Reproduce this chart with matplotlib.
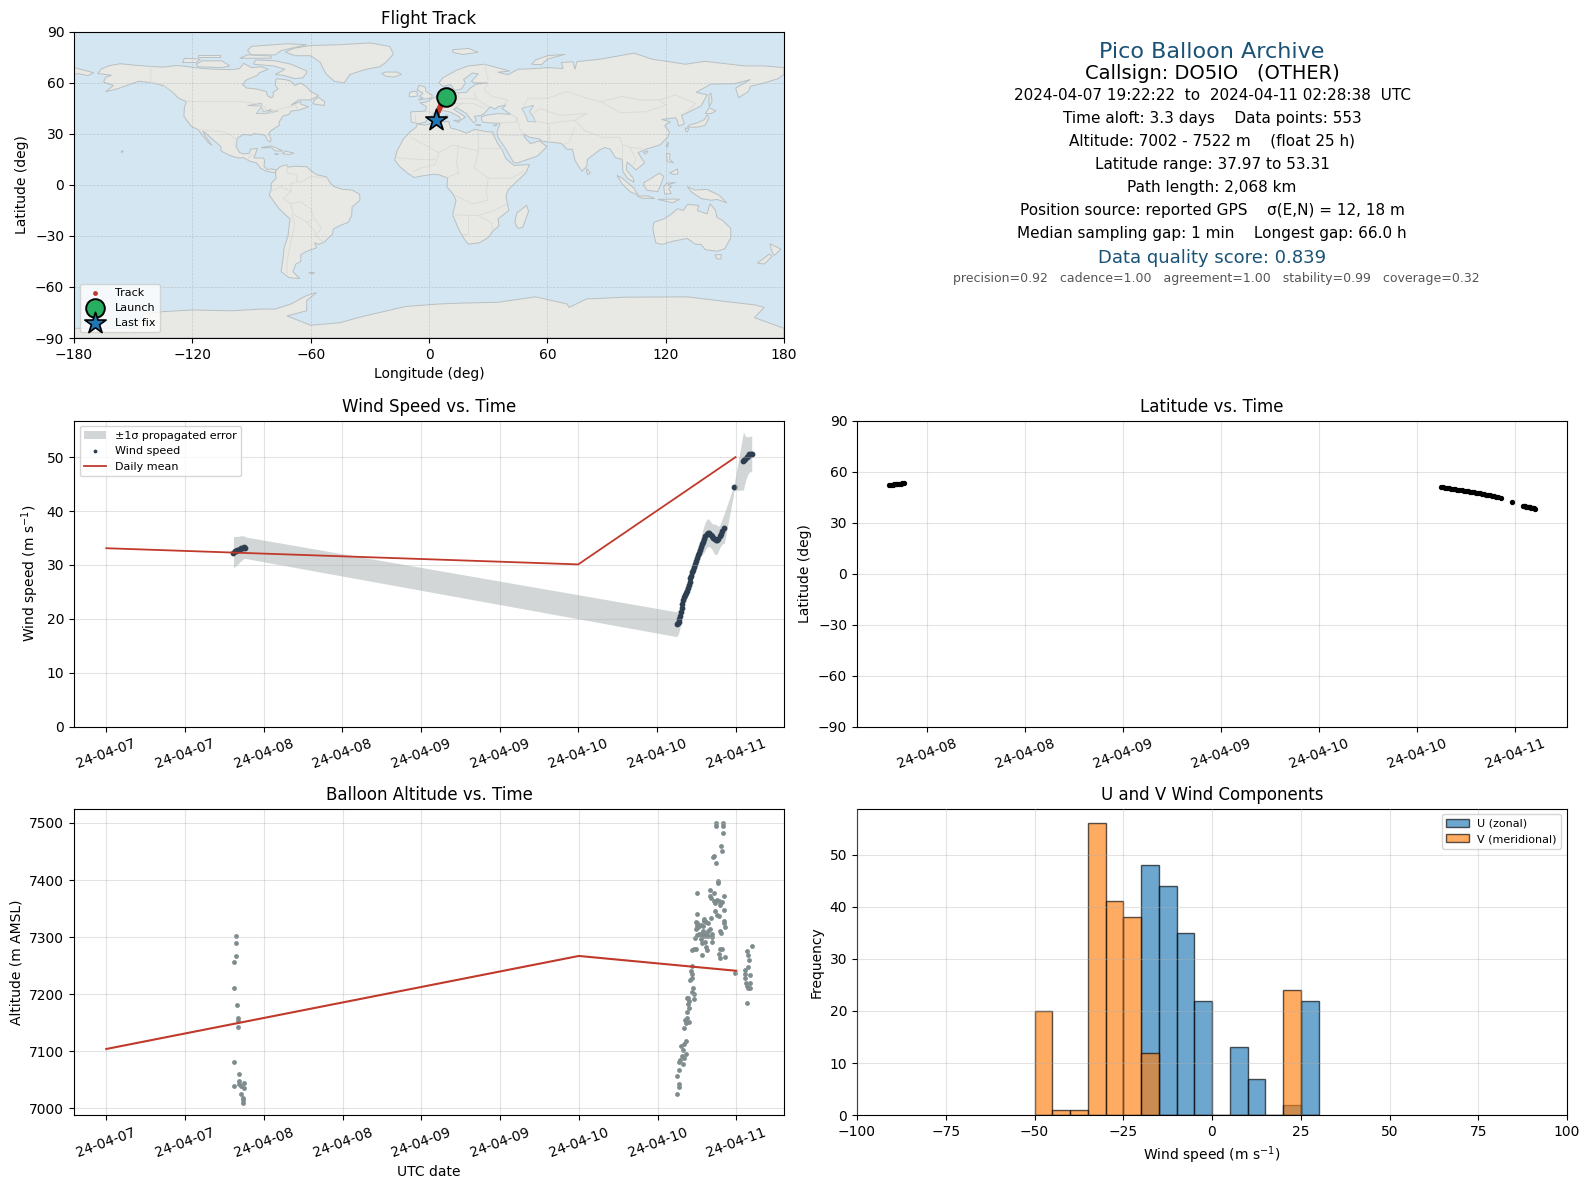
from datetime import datetime, timedelta

import matplotlib
matplotlib.use("Agg")
import matplotlib.dates as mdates
import matplotlib.pyplot as plt
import numpy as np

# Flight start of day, all times below are hours after this
BASE = datetime(2024, 4, 7)

NAVY = "#1a5276"
RED = "#c0392b"
DARK = "#2c3e50"
GREY = "#7f8c8d"
OCEAN = "#d4e6f1"
LAND = "#e8e8e4"
COAST = "#b9c0c2"

# Land outlines as (lon, lat)
north_america = [(-168,65.6),(-166,68.3),(-162,70.2),(-156.5,71.3),(-150,70.5),(-141,69.7),(-135,69.3),(-128,70.2),(-124,69.8),(-115,68.5),(-108,68),(-100,67.8),(-96,68.5),(-94,71.5),(-90,69),(-85,69.5),(-81.5,68),(-86,66),(-87,64.5),(-93,61.5),(-94.5,59),(-92.5,57),(-88,56.5),(-82.5,55),(-82,52.5),(-80,51.3),(-79,52),(-79,54.5),(-76.5,56.5),(-78,58.7),(-77.5,62.4),(-73,62),(-70,61),(-68,58.5),(-65,60),(-62,57.5),(-60,55),(-56,52.5),(-60,50),(-66,50),(-70,47),(-65,49),(-65,47.5),(-61,46),(-66,44),(-70,43.5),(-71,41.5),(-74,40.5),(-76,37),(-76,35),(-80,32),(-81.3,30),(-80,26.8),(-80.5,25.2),(-82,26.5),(-83,29),(-85,29.7),(-89,30.2),(-90,29.2),(-94,29.7),(-97.3,27.5),(-97.8,22.5),(-96,19),(-94,18.2),(-91,18.7),(-90.5,21),(-87,21.5),(-88,18),(-88.8,15.9),(-84,15.8),(-83.3,14.5),(-83.7,11),(-82,9),(-79.7,9.5),(-77.4,8.7),(-77.9,7.2),(-80,7.5),(-81.5,7.8),(-83,8.3),(-85.5,10),(-87.5,13),(-91,14),(-94,16),(-97,15.9),(-101,17.3),(-105.5,20),(-105.5,22.5),(-109,26),(-112.8,30),(-114.7,31.7),(-113,28),(-110,23.2),(-112,25),(-115,29.5),(-117.1,32.5),(-120.5,34.5),(-122.5,37.5),(-124.3,40.4),(-124,46),(-123,49),(-127,51),(-130,54.5),(-134,58),(-140,60),(-147,61),(-152,59),(-158,56.5),(-164,54.8),(-160,58.5),(-165,60.5),(-164,63.3),(-161,64.5)]
greenland = [(-73,78.2),(-68,80.5),(-60,82),(-45,82.5),(-30,83.5),(-20,81.5),(-18,77),(-22,72),(-25,69.5),(-32,68),(-40,65),(-43,60),(-48,61),(-52,65),(-54,69),(-55,72),(-60,76),(-68,76)]
south_america = [(-77.9,7.2),(-77.4,8.7),(-75.5,10.7),(-72,12),(-71.5,10.5),(-68,11),(-62,10.7),(-60,8.5),(-57,6),(-52,4.8),(-50,1),(-48,-1),(-44,-2.5),(-39,-3),(-35.2,-5.5),(-35,-9),(-39,-13),(-39.2,-18),(-41,-22),(-45,-23.8),(-48.5,-26),(-49,-29),(-53,-33.5),(-56,-35),(-58,-34),(-57,-37),(-62,-39),(-65,-41),(-65,-45),(-67.5,-46.5),(-69,-51),(-65.5,-55),(-71,-54.5),(-75,-51),(-74,-43),(-73.5,-37),(-71.5,-30),(-70.5,-20),(-76,-14),(-81,-6),(-80,-2.5),(-80,0.8),(-77.5,4)]
africa = [(-5.9,35.8),(-2,35.2),(3,36.8),(10,37.3),(11,33.5),(15,32.3),(19,30.4),(23,32.7),(30,31.2),(32.5,31.2),(32.5,30),(35,24),(37,21),(39,15.5),(43,11.5),(51,12),(49,7),(44,1.5),(40,-3),(39,-7),(40.5,-15),(35,-20),(35.5,-24),(32.5,-27),(30,-31),(25.5,-34),(20,-34.8),(18,-32),(15,-26),(12,-17.5),(13.7,-9),(12,-5),(9,-1),(9.5,4),(5,6),(2,6.3),(-4,5.2),(-7.5,4.4),(-11,7),(-15,11),(-17.4,14.7),(-16.2,20),(-13,27),(-9.8,31),(-6.5,34)]
eurasia = [(-9,37),(-9.3,43),(-2,43.4),(-1.2,46),(-4.7,48.4),(-1.5,48.7),(2,51),(4,52),(8,53.7),(8.5,57),(10.5,57.5),(10,54.5),(14,54),(19,54.5),(21,57),(24,59.3),(30,60),(23,60),(21.5,61),(25,65.3),(22,65.8),(17.5,62),(18.5,60),(16.5,56.5),(13,55.5),(11,59),(7,58),(5,60),(7,63),(14,67.5),(20,70),(28,71),(41,67),(35,66.3),(40,64.8),(45,68),(54,68.5),(60,69),(68,68.5),(67,72),(73,72.5),(74,68),(75,72.5),(87,74),(104,77.5),(113,74),(130,71),(140,72.7),(160,70),(170,70),(180,69),(180,65),(177,62.5),(170,60),(163,58),(162,55),(157,51.3),(155.5,57),(163,62),(155,59.5),(143,59.3),(135.5,54.5),(141,53),(138,46.5),(132,43),(128,41),(129.5,36),(126.5,34.5),(126,37.5),(125,39.5),(121,39),(118,38.5),(122.5,37),(119.5,35),(122,31),(121,28),(117,23.5),(110,21),(106,19),(109.3,13),(105,8.8),(100.5,13.5),(100,9),(103.5,4),(104,1.5),(100.5,4),(98.3,8),(98,15),(94.5,16),(92,21),(89,22),(86.5,20.5),(80.3,15),(80,11),(77.5,8),(74,14.5),(72.7,21),(70,21),(67,24.5),(61,25.2),(57,25.8),(56.3,27),(51,28),(48,30),(48.5,28),(51.5,24.3),(56,26),(59.8,22.5),(55,17),(45,13),(43,13),(39,21),(35,28),(34.5,31.3),(36,36.3),(30.5,36.5),(27,37),(26.5,40),(29,41),(35,42),(41.5,41.5),(37,45),(39,47),(35,46),(33.5,44.5),(31,46),(28,42),(26,40.8),(23,40.3),(24,38),(22.7,36.5),(19.5,41),(19,42),(14,45.5),(12.5,44.5),(18.5,40),(16,38),(15.5,40),(10.5,43),(7,43.7),(3,42.5),(0,39.5),(-2,36.8),(-5.5,36)]
chukotka = [(-180,69),(-175,67.5),(-170,66),(-173,64.3),(-178,65.5),(-180,65)]
australia = [(114,-22),(113.5,-26),(115,-34),(118,-35),(124,-33),(131,-31.5),(135,-34.8),(138,-35),(140,-38),(146,-39),(150,-37.5),(153,-31),(153,-25.5),(149,-21),(146,-19),(145.3,-15),(142.5,-11),(141,-17),(136,-15),(136.8,-12),(131,-11.5),(129,-15),(126,-14),(122.5,-17.5),(119,-20)]
antarctica = [(-180,-90),(-180,-84.3),(-150,-84.3),(-145,-76),(-135,-74.5),(-120,-73.5),(-100,-74),(-85,-73),(-78,-73),(-70,-70),(-62,-65),(-57,-63.3),(-62,-68),(-62,-74),(-72,-77),(-60,-82.5),(-45,-81),(-36,-78),(-25,-75),(-12,-71.5),(5,-70),(16,-69.5),(35,-69),(54,-65.8),(70,-70),(71,-72),(80,-67),(100,-66),(131,-65.8),(150,-68.5),(165,-70.5),(170,-72),(165,-78),(180,-84.3),(180,-90)]
islands = [
    [(-62,66),(-64,63),(-68,62.5),(-74,64.5),(-78,65),(-73,68),(-79,70),(-89,71),(-88,73.5),(-78,73),(-70,71),(-62,67)],
    [(-117,69.5),(-105,69),(-101,70),(-105,73),(-115,73),(-118,71)],
    [(-90,76.5),(-78,76.5),(-75,79),(-62,82.5),(-72,83),(-90,81.5),(-92,79)],
    [(-125,72),(-118,72),(-116,74),(-124,74.5)],
    [(-96,74.5),(-80,74.5),(-80,75.8),(-92,76.5)],
    [(-117,75),(-106,75),(-106,76.5),(-117,76.5)],
    [(-59,47.7),(-53,46.7),(-53,49),(-56,51.5),(-58,50)],
    [(-85,22),(-80,23),(-75,20.5),(-74.2,20),(-78,20),(-80,22),(-84,21.8)],
    [(-74.4,18.5),(-72.8,19.9),(-68.5,18.7),(-71,17.8)],
    [(-78.3,18.3),(-76.3,18.2),(-77,17.8)],
    [(-156,19),(-155,19.7),(-155.9,20.2)],
    [(-61,-51.5),(-58,-51.5),(-59,-52.3)],
    [(-5.5,50),(1.3,51.2),(1.7,52.7),(-1.5,55),(-2,57.6),(-5,58.6),(-6,56),(-3,54),(-5,52),(-3,51.3)],
    [(-10,51.8),(-6,52.2),(-6,55),(-8.5,55),(-10,54)],
    [(-24,65.5),(-22,64),(-18,63.4),(-14,65),(-16,66.4),(-22,66.4)],
    [(12,78),(17,76.7),(25,78),(20,80.3),(12,79.5)],
    [(52,71),(57,70.7),(60,74),(69,76.8),(60,76),(54,73.5)],
    [(12.5,38),(15.5,38),(15,36.7)],
    [(8.3,41),(9.7,41),(9.5,39),(8.5,39)],
    [(23.5,35.5),(26.3,35.2),(24.5,35)],
    [(32.5,35),(34.5,35.5),(33.5,34.7)],
    [(80,9.5),(81.8,7),(80.5,6),(79.8,8)],
    [(131,34),(136,34),(140,35),(142,39.5),(141,41.3),(139.8,38.5),(136,36.5),(132,35.3)],
    [(130,33.5),(131.8,33),(131,31.2),(130,32)],
    [(140,42),(143,42),(145.5,43.5),(142,45.4),(141,43.5)],
    [(142,46),(143.5,49),(143,54),(142,53),(142,49)],
    [(120.2,23),(121.5,25.2),(121,22)],
    [(108.7,19.2),(110.5,20),(111,19.5),(109.5,18.2)],
    [(120.5,18.5),(122.2,18.3),(122,15),(124,13),(120.8,13.8)],
    [(122,7),(126,9.5),(126.2,6.5),(124,6.2)],
    [(95.3,5.6),(98,4),(104,-2),(106,-6),(102,-4),(98,0.5)],
    [(105.5,-6.5),(111,-6.5),(114.5,-8),(108,-7.8)],
    [(109,1.5),(111.5,3),(116.8,7),(119,5),(117.8,1),(116,-4),(110.5,-3),(109,-0.5)],
    [(119.5,-5.5),(119,-1),(120.5,1),(125,1.5),(121,0),(123,-1),(121.5,-2),(122.8,-5)],
    [(131,-1),(135,-3),(141,-2.6),(147,-6),(151,-10.5),(146,-8.5),(143,-9),(138,-8),(133,-4)],
    [(116,-8.5),(125,-8.3),(127,-8.5),(123.5,-10.5)],
    [(49.5,-12),(50.5,-15.5),(47.5,-25),(45,-25.5),(43.5,-22),(44.5,-16.5)],
    [(145,-41),(148.3,-41),(148,-43.5),(146,-43.5)],
    [(172.8,-34.5),(178.5,-37.8),(175,-41.5),(174,-39.5)],
    [(172.5,-40.6),(174,-42),(170,-46.5),(166.5,-46),(171,-42)],
]
caspian = [(47,45),(53,46.8),(51,43),(53,40),(54,37),(50,37.5),(49,41)]
great_lakes = [[(-92,46.7),(-85,48),(-84.7,46.6),(-88,46.5)],
               [(-87.5,42),(-85,46),(-84,43),(-80,44.5),(-82.5,42)],
               [(-83,41.7),(-79,42.8),(-76.5,43.5),(-79.5,43.5)]]
borders = [
    [(-123,49),(-95,49),(-89,48),(-83,46),(-82.5,42),(-79,43),(-75,45),(-70,46),(-67.5,47),(-67,45)],
    [(-141,69.7),(-141,60.3),(-135,59),(-130,55)],
    [(-117,32.5),(-108,31.5),(-106,31.7),(-101,29.7),(-97.3,26)],
    [(-92,14.5),(-91,17),(-89,18)],
    [(-51.5,4),(-60,5),(-64,2),(-70,1),(-70,-4),(-74,-8),(-70,-11),(-65,-10),(-60,-14),(-58,-20),(-54.5,-25.5),(-57.5,-30),(-53.5,-33.5)],
    [(-69.5,-18),(-68,-23),(-70,-33),(-72,-45),(-72,-52)],
    [(-72,12),(-72,7),(-67,6),(-67,1.5)],
    [(-70,-11),(-69,-17),(-62,-22),(-58,-20)],
    [(-62,-22),(-58,-27),(-57.5,-30)],
    [(-80,-3.5),(-75,-1),(-70,-4)],
    [(-8.7,27.7),(5,19),(12,23.5),(25,20),(25,32)],
    [(25,22),(36.5,22)],
    [(5,19),(3,12),(-4,10),(-8,8)],
    [(-16,16),(-5,15),(3,15)],
    [(15,23),(14,13),(15,7),(9,4.5)],
    [(25,20),(23,10),(30,4),(34,4),(42,4),(48,8)],
    [(30,4),(29,-4),(30,-9),(22,-11),(13,-6)],
    [(12,-17.5),(25,-18),(33,-15),(40.5,-10.5)],
    [(20,-18),(20,-29),(17,-29)],
    [(25,-18),(32,-22.5),(32,-26.5)],
    [(-1.8,43.4),(3,42.5)],
    [(-7,37),(-7,42)],
    [(7.5,44),(7,47.5),(8,49),(6,50),(4,51.5)],
    [(7,47.5),(17,48),(13,45.6)],
    [(6.8,53.4),(7,50.5)],
    [(14.5,54),(15,51),(24,50.5),(23,54.4)],
    [(24,50.5),(30,46)],
    [(17,48),(22,48),(28,45)],
    [(30,60),(28,56),(32,52),(40,50),(38,47)],
    [(28,71),(30,62)],
    [(48,46),(50,51),(60,51),(70,55),(80,51),(87,49),(98,52),(107,50),(117,50),(125,53),(135,48),(131,43)],
    [(87,49),(97,42.5),(110,43),(120,47),(117,50)],
    [(80,42),(74,38),(79,32),(88,28),(97,28),(98,24),(102,22),(108,21.5)],
    [(74,34),(71,25),(68,23.7)],
    [(61,25),(61,36),(54,37.5)],
    [(44.5,39.5),(46,33),(48,30)],
    [(36,29.5),(44,29),(47.5,29)],
    [(36,36.5),(44,37),(44.5,39.5),(41.5,41.5)],
    [(53,42),(56,45),(66,41),(80,42)],
    [(98,24),(98,15)],
    [(102,22),(105,15),(103,11)],
    [(61,36),(66,37),(74,38)],
]

# Track and end markers
track_lon = [8.7, 8.0, 7.3, 6.6, 6.0, 5.5, 5.0, 4.6, 4.2, 3.9, 3.6]
track_lat = [52.2, 50.6, 49.4, 48.3, 47.2, 46.0, 44.7, 43.3, 41.8, 39.9, 38.0]
launch_pos = (8.7, 52.0)
last_fix_pos = (3.6, 38.0)

# Wind speed, hours after BASE / m s-1 / 1 sigma error
wind_hours = [19.4,19.6,19.8,20.0,20.2,20.4,20.6,20.8,21.0,21.2,
              87.0,87.15,87.3,87.45,87.6,87.7,87.8,87.9,88.0,88.1,88.25,88.4,88.55,88.7,88.85,89.0,89.1,89.25,89.4,89.55,
              89.7,89.85,90.0,90.1,90.25,90.4,90.55,90.7,90.85,91.0,91.2,91.4,91.6,91.8,92.0,92.2,92.4,92.6,92.8,93.0,
              93.2,93.4,93.6,93.8,94.0,94.3,95.8,97.2,97.35,97.5,97.7,97.9,98.1,98.3,98.47]
wind_speed = [32.3,32.5,32.6,32.7,32.8,33.0,33.1,33.2,33.3,33.2,
              19.0,19.2,19.5,19.9,20.5,21.2,22.0,22.8,23.5,24.0,24.4,24.8,25.2,25.7,26.3,26.9,27.5,28.0,28.6,29.1,
              29.6,30.1,30.7,31.3,31.8,32.3,32.8,33.3,33.8,34.3,34.8,35.4,35.8,36.0,35.9,35.6,35.3,35.0,34.8,34.7,
              34.7,34.9,35.3,35.8,36.3,36.8,44.4,49.3,49.5,49.7,50.0,50.3,50.5,50.6,50.6]
wind_err = [2.9,2.8,2.7,2.6,2.5,2.4,2.3,2.2,2.1,2.0,
            2.3,2.3,2.2,2.0,1.8,1.6,1.4,1.3,1.2,1.2,1.3,1.4,1.4,1.5,1.5,1.5,1.5,1.5,1.5,1.5,
            1.5,1.5,1.5,1.5,1.5,1.5,1.5,1.6,1.9,2.2,2.5,2.6,2.6,2.6,2.5,2.4,2.4,2.6,2.8,2.8,
            2.6,2.3,2.1,2.2,2.4,2.8,0.6,5.4,4.8,4.2,3.8,3.5,3.3,3.3,3.3]

# Daily means at midnight
daily_hours = [0, 72, 96]
daily_wind = [33.1, 30.1, 50.0]
daily_alt = [7104, 7267, 7241]

# Latitude
lat_hours = [19.4,19.6,19.8,20.0,20.2,20.4,20.6,20.8,21.0,21.2,
             87.0,87.25,87.5,87.75,88.0,88.25,88.5,88.75,89.0,89.25,89.5,89.75,90.0,90.25,90.5,90.75,91.0,91.25,91.5,91.75,
             92.0,92.25,92.5,92.75,93.0,93.25,93.5,93.75,94.0,94.3,95.7,
             97.0,97.15,97.3,97.45,97.6,97.75,97.9,98.05,98.2,98.35,98.47]
lat_deg = [52.2,52.3,52.3,52.4,52.5,52.6,52.7,52.9,53.0,53.3,
           51.0,50.8,50.6,50.4,50.2,50.0,49.8,49.6,49.4,49.2,49.0,48.8,48.6,48.4,48.2,48.0,47.8,47.5,47.3,47.1,
           46.9,46.7,46.4,46.2,45.9,45.7,45.4,45.2,44.9,44.3,41.9,
           39.9,39.7,39.6,39.4,39.2,39.1,38.9,38.7,38.5,38.3,38.0]

# Altitude
alt_hours = [19.74,19.74,19.74,19.53,19.53,19.9,20.04,20.04,20.04,19.43,20.2,19.43,20.3,20.2,20.95,20.55,20.95,20.5,20.8,20.8,20.85,
             92.9,92.9,94.0,94.0,94.0,93.7,93.8,92.6,92.5,92.9,93.2,93.2,90.0,92.0,92.6,94.1,92.0,92.1,92.6,93.0,93.4,93.8,92.7,93.5,
             94.1,92.8,93.1,93.4,90.0,92.2,91.1,94.1,94.1,94.3,93.5,93.6,
             89.85,90.05,89.95,90.35,90.6,90.95,91.45,91.7,91.95,91.05,89.85,90.2,
             90.95,90.7,90.35,89.95,89.7,91.7,91.45,92.3,92.3,91.2,90.7,90.6,90.7,91.2,91.7,92.3,91.45,91.6,
             89.2,89.55,89.8,90.8,93.5,93.8,93.4,93.5,94.3,
             89.2,89.05,89.2,89.2,88.95,89.45,89.2,89.6,89.6,88.45,88.7,88.85,88.7,88.85,88.55,88.45,88.2,88.8,88.35,88.1,
             88.3,88.1,87.55,87.85,88.3,87.7,88.1,87.45,87.3,87.95,87.3,87.0,87.2,87.2,87.0,
             95.8,98.35,97.65,97.75,97.9,97.75,97.4,97.25,98.15,97.25,97.5,98.1,97.6,97.75,98.1,97.6]
alt_m = [7302,7289,7267,7256,7211,7181,7159,7153,7142,7082,7061,7040,7048,7043,7044,7039,7035,7026,7014,7019,7010,
         7500,7494,7500,7495,7482,7460,7451,7443,7440,7430,7399,7394,7377,7382,7377,7372,7372,7368,7363,7365,7364,7361,7359,7356,
         7348,7345,7338,7337,7340,7333,7332,7329,7325,7318,7310,7308,
         7327,7324,7320,7320,7321,7320,7327,7324,7315,7328,7315,7318,
         7310,7308,7305,7303,7299,7310,7305,7305,7300,7302,7302,7296,7290,7292,7302,7292,7282,7277,
         7277,7279,7279,7268,7279,7280,7271,7263,7266,
         7249,7240,7236,7228,7224,7211,7204,7201,7191,7194,7194,7188,7182,7175,7168,7159,7154,7151,7149,7141,
         7118,7112,7109,7103,7096,7091,7088,7085,7081,7077,7068,7056,7043,7037,7026,
         7238,7284,7275,7268,7260,7248,7243,7236,7234,7228,7220,7220,7215,7210,7210,7184]

# Histogram, 5 m/s bins
bin_left = [-50,-45,-40,-35,-30,-25,-20,-15,-10,-5,0,5,10,15,20,25]
u_counts = [0,0,0,0,0,0,48,44,35,22,0,13,7,0,2,22]
v_counts = [20,1,1,56,41,38,12,0,0,0,0,0,0,0,24,0]

info_lines = [
    ("Pico Balloon Archive", 16, NAVY, 51, 1196),
    ("Callsign: DO5IO   (OTHER)", 14, "black", 72.5, 1196),
    ("2024-04-07 19:22:22  to  2024-04-11 02:28:38  UTC", 11, "black", 94, 1196.5),
    ("Time aloft: 3.3 days    Data points: 553", 11, "black", 117, 1196),
    ("Altitude: 7002 - 7522 m    (float 25 h)", 11, "black", 139.5, 1196),
    ("Latitude range: 37.97 to 53.31", 11, "black", 162, 1196),
    ("Path length: 2,068 km", 11, "black", 185, 1196),
    ("Position source: reported GPS    \u03c3(E,N) = 12, 18 m", 11, "black", 207.5, 1196),
    ("Median sampling gap: 1 min    Longest gap: 66.0 h", 11, "black", 230, 1196),
    ("Data quality score: 0.839", 13, NAVY, 255, 1196),
    ("precision=0.92   cadence=1.00   agreement=1.00   stability=0.99   coverage=0.32", 9, "#555555", 275, 1200),
]

FIG_W, FIG_H = 1589, 1189


def to_dates(hours):
    return [BASE + timedelta(hours=float(h)) for h in hours]


def make_axes(fig, left, top, right, bottom):
    """Place an axes from pixel edges (origin top left)."""
    return fig.add_axes([left / FIG_W, 1 - bottom / FIG_H,
                         (right - left) / FIG_W, (bottom - top) / FIG_H])


def style_dates(ax):
    ax.xaxis.set_major_locator(mdates.HourLocator(byhour=[0, 12]))
    ax.xaxis.set_major_formatter(mdates.DateFormatter("%y-%m-%d"))
    ax.tick_params(axis="x", labelrotation=20)
    ax.grid(True, color="#b0b0b0", alpha=0.35)


def plot_map(ax):
    ax.set_facecolor(OCEAN)
    shapes = [north_america, greenland, south_america, africa, eurasia,
              chukotka, australia, antarctica] + islands
    for shape in shapes:
        pts = np.array(shape)
        ax.fill(pts[:, 0], pts[:, 1], facecolor=LAND, edgecolor=COAST, linewidth=0.7, zorder=0.2)
    for shape in [caspian] + great_lakes:
        pts = np.array(shape)
        ax.fill(pts[:, 0], pts[:, 1], facecolor=OCEAN, edgecolor=COAST, linewidth=0.6, zorder=0.3)
    for line in borders:
        pts = np.array(line)
        ax.plot(pts[:, 0], pts[:, 1], color="#d9dbd8", linewidth=0.6, zorder=0.4)

    ax.set_axisbelow(True)
    ax.grid(True, color="#9aa5aa", alpha=0.45, linestyle="--", linewidth=0.5)
    ax.plot(track_lon, track_lat, color=RED, linewidth=3.5, zorder=3, solid_capstyle="round")
    ax.scatter(track_lon, track_lat, s=6, color=RED, zorder=3, label="Track")
    ax.scatter(*launch_pos, s=180, color="#27ae60", edgecolor="black", linewidth=1.4, zorder=4, label="Launch")
    ax.scatter(*last_fix_pos, s=260, marker="*", color="#1f77b4", edgecolor="black", linewidth=1.2, zorder=5, label="Last fix")
    ax.set_xlim(-180, 180)
    ax.set_ylim(-90, 90)
    ax.set_xticks(np.arange(-180, 181, 60))
    ax.set_yticks(np.arange(-90, 91, 30))
    ax.set_xlabel("Longitude (deg)")
    ax.set_ylabel("Latitude (deg)")
    ax.set_title("Flight Track", pad=5.5)
    ax.legend(loc="lower left", fontsize=8, labelspacing=0.45)


def plot_wind(ax):
    dates = to_dates(wind_hours)
    speed = np.array(wind_speed)
    err = np.array(wind_err)
    ax.fill_between(dates, speed - err, speed + err, color=GREY, alpha=0.35, linewidth=0,
                    label="\u00b11\u03c3 propagated error")
    ax.scatter(dates, speed, s=10, color=DARK, label="Wind speed")
    ax.plot(to_dates(daily_hours), daily_wind, color=RED, linewidth=1.3, label="Daily mean")
    style_dates(ax)
    ax.set_ylim(0, 56.8)
    ax.set_ylabel("Wind speed (m s$^{-1}$)")
    ax.set_title("Wind Speed vs. Time")
    ax.legend(loc="upper left", fontsize=8, markerscale=0.55)


def plot_latitude(ax):
    ax.scatter(to_dates(lat_hours), lat_deg, s=8, color="black")
    style_dates(ax)
    ax.set_ylim(-90, 90)
    ax.set_yticks(np.arange(-90, 91, 30))
    ax.set_ylabel("Latitude (deg)")
    ax.set_title("Latitude vs. Time")


def plot_altitude(ax):
    ax.scatter(to_dates(alt_hours), alt_m, s=6, color=GREY)
    ax.plot(to_dates(daily_hours), daily_alt, color=RED, linewidth=1.5)
    style_dates(ax)
    ax.set_ylim(6988, 7525)
    ax.set_xlabel("UTC date")
    ax.set_ylabel("Altitude (m AMSL)")
    ax.set_title("Balloon Altitude vs. Time")


def plot_hist(ax):
    ax.bar(bin_left, u_counts, width=5, align="edge", color="#1f77b4", alpha=0.65,
           edgecolor="black", label="U (zonal)")
    ax.bar(bin_left, v_counts, width=5, align="edge", color="#ff7f0e", alpha=0.65,
           edgecolor="black", label="V (meridional)")
    ax.set_xlim(-100, 100)
    ax.set_ylim(0, 58.8)
    ax.grid(True, color="#b0b0b0", alpha=0.35)
    ax.set_axisbelow(False)
    ax.set_xlabel("Wind speed (m s$^{-1}$)")
    ax.set_ylabel("Frequency")
    ax.set_title("U and V Wind Components")
    ax.legend(loc="upper right", fontsize=8)


if __name__ == "__main__":
    fig = plt.figure(figsize=(FIG_W / 100, FIG_H / 100), dpi=100)

    plot_map(make_axes(fig, 74, 31.9, 784, 338))
    plot_wind(make_axes(fig, 74, 420.5, 784, 726.6))
    plot_latitude(make_axes(fig, 857, 420.5, 1567, 726.6))
    plot_altitude(make_axes(fig, 74, 808.7, 784, 1115.2))
    plot_hist(make_axes(fig, 857, 808.7, 1567, 1115.2))

    # Summary block, positions read in the 1568 px wide view of the reference
    scale = 1 / 0.9868
    for text, size, color, y, x in info_lines:
        fig.text(x * scale / FIG_W, 1 - y * scale / FIG_H, text, fontsize=size,
                 color=color, ha="center", va="center")

    fig.savefig("out.png", dpi=100)
